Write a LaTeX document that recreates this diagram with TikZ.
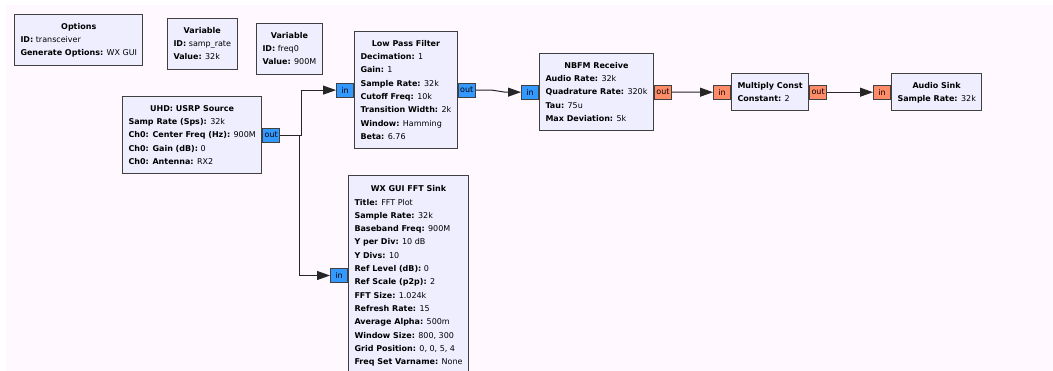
\documentclass[tikz,border=0pt]{standalone}
\usepackage{fontspec}
\setmainfont{DejaVu Sans}
\usetikzlibrary{positioning,arrows.meta}
\definecolor{canvas}{RGB}{255,248,255}
\definecolor{blockfill}{RGB}{238,238,255}
\definecolor{cplx}{RGB}{51,153,255}
\definecolor{flt}{RGB}{255,140,105}
\newcommand{\blk}[2]{\begin{tabular}{@{}l@{}}\multicolumn{1}{@{}c@{}}{\textbf{#1}}\\#2\end{tabular}}
\newcommand{\prm}[2]{\textbf{#1:} #2}

\begin{document}
\begin{tikzpicture}[
  x=1pt, y=-1pt,
  font=\fontsize{8}{13.3}\selectfont,
  block/.style={draw=black!75, line width=1pt, fill=blockfill, anchor=north west, inner xsep=6pt, inner ysep=5.4pt},
  port/.style={draw=black!75, line width=1pt, minimum width=17pt, minimum height=14pt, inner sep=0pt},
  cport/.style={port, fill=cplx},
  fport/.style={port, fill=flt},
  arrow/.style={-{Triangle[length=13pt,width=9pt]}, line width=1pt, draw=black!85},
  node distance=0pt
]
\useasboundingbox (0,0) rectangle (1053,370);
\fill[white] (0,0) rectangle (1053,370);
\fill[canvas] (6,5) rectangle (1060,380);

\node[block] (opts) at (14,14) {\blk{Options}{\prm{ID}{transceiver}\\\prm{Generate Options}{WX GUI}}};
\node[block] (varrate) at (167,18) {\blk{Variable}{\prm{ID}{samp\_rate}\\\prm{Value}{32k}}};
\node[block] (varfreq) at (256,23) {\blk{Variable}{\prm{ID}{freq0}\\\prm{Value}{900M}}};

\node[block] (usrp) at (122,96) {\blk{UHD: USRP Source}{\prm{Samp Rate (Sps)}{32k}\\\prm{Ch0: Center Freq (Hz)}{900M}\\\prm{Ch0: Gain (dB)}{0}\\\prm{Ch0: Antenna}{RX2}}};
\node[block] (lpf) at (354,31) {\blk{Low Pass Filter}{\prm{Decimation}{1}\\\prm{Gain}{1}\\\prm{Sample Rate}{32k}\\\prm{Cutoff Freq}{10k}\\\prm{Transition Width}{2k}\\\prm{Window}{Hamming}\\\prm{Beta}{6.76}}};
\node[block] (nbfm) at (539,53) {\blk{NBFM Receive}{\prm{Audio Rate}{32k}\\\prm{Quadrature Rate}{320k}\\\prm{Tau}{75u}\\\prm{Max Deviation}{5k}}};
\node[block] (mult) at (731,73) {\blk{Multiply Const}{\prm{Constant}{2}}};
\node[block] (sink) at (891,73) {\blk{Audio Sink}{\prm{Sample Rate}{32k}}};
\node[block, minimum height=200pt] (fft) at (348,175) {\blk{WX GUI FFT Sink}{\prm{Title}{FFT Plot}\\\prm{Sample Rate}{32k}\\\prm{Baseband Freq}{900M}\\\prm{Y per Div}{10 dB}\\\prm{Y Divs}{10}\\\prm{Ref Level (dB)}{0}\\\prm{Ref Scale (p2p)}{2}\\\prm{FFT Size}{1.024k}\\\prm{Refresh Rate}{15}\\\prm{Average Alpha}{500m}\\\prm{Window Size}{800, 300}\\\prm{Grid Position}{0, 0, 5, 4}\\\prm{Freq Set Varname}{None}}};

\node[cport, right=of usrp] (usrpout) {out};
\node[cport, left=of lpf] (lpfin) {in};
\node[cport, right=of lpf] (lpfout) {out};
\node[cport, left=of nbfm] (nbfmin) {in};
\node[fport, right=of nbfm] (nbfmout) {out};
\node[fport, left=of mult] (multin) {in};
\node[fport, right=of mult] (multout) {out};
\node[fport, left=of sink] (sinkin) {in};
\node[cport, left=of fft] (fftin) {in};

\draw[arrow] (usrpout.east) -- ++(21,0) |- (lpfin.west);
\draw[arrow] (usrpout.east) -- ++(19,0) |- (fftin.west);
\draw[arrow] (lpfout.east) -- ++(16,0) -- ([xshift=-16pt]nbfmin.west) -- (nbfmin.west);
\draw[arrow] (nbfmout.east) -- ++(16,0) -- ([xshift=-16pt]multin.west) -- (multin.west);
\draw[arrow] (multout.east) -- ++(16,0) -- ([xshift=-16pt]sinkin.west) -- (sinkin.west);
\end{tikzpicture}
\end{document}
